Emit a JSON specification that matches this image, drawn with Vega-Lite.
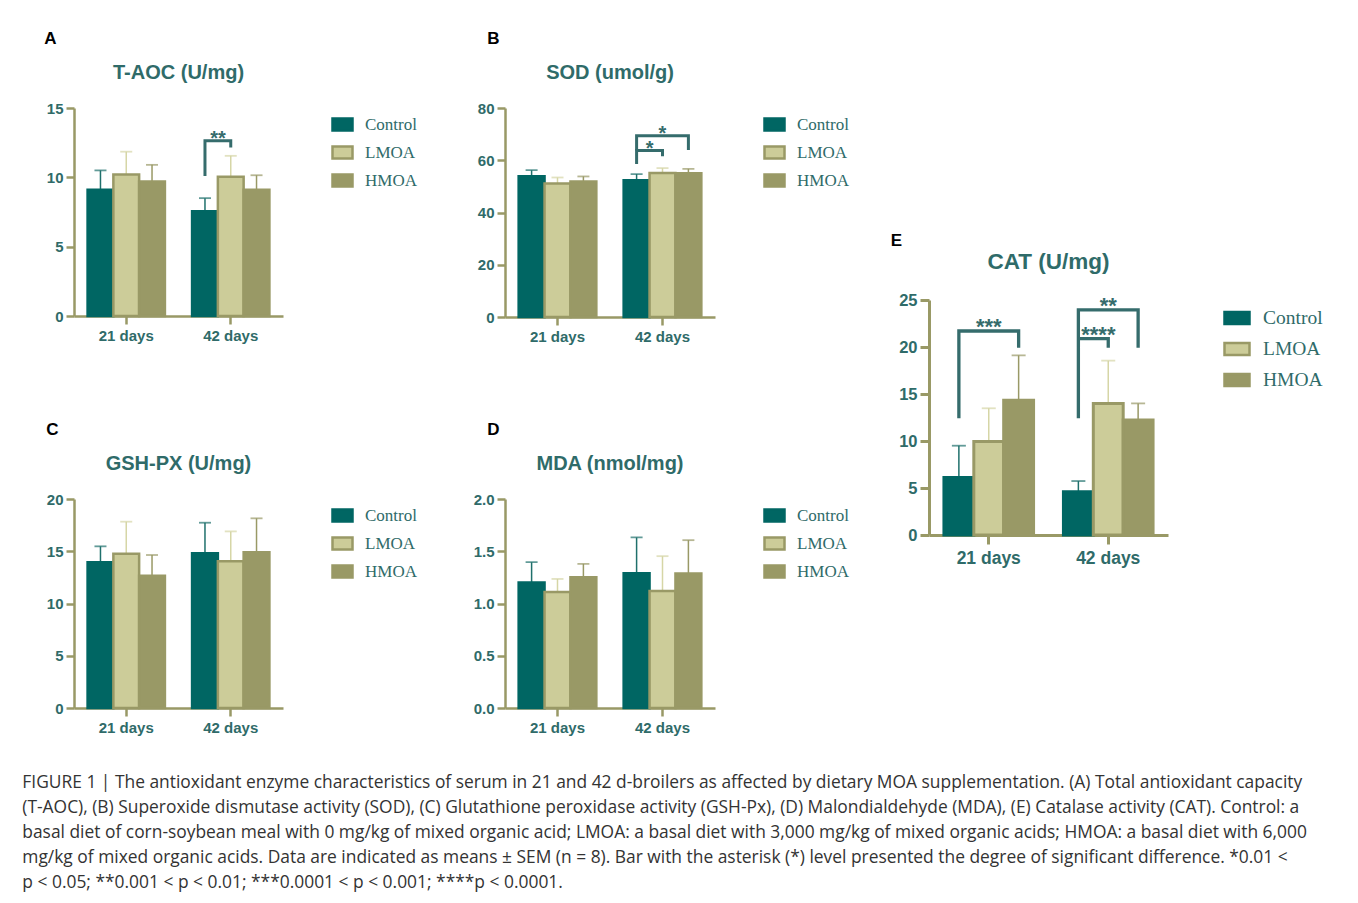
{
"$schema":"https://vega.github.io/schema/vega-lite/v6.json",
"padding":{"left":22,"top":30,"right":5,"bottom":5},
"datasets":{
"bars":[
{"panel":"A","day":"21 days","group":"Control","mean":9.1,"upper":10.5},
{"panel":"A","day":"21 days","group":"LMOA","mean":10.2,"upper":11.85},
{"panel":"A","day":"21 days","group":"HMOA","mean":9.7,"upper":10.9},
{"panel":"A","day":"42 days","group":"Control","mean":7.55,"upper":8.5},
{"panel":"A","day":"42 days","group":"LMOA","mean":10.05,"upper":11.55},
{"panel":"A","day":"42 days","group":"HMOA","mean":9.1,"upper":10.15},
{"panel":"B","day":"21 days","group":"Control","mean":53.9,"upper":56.2},
{"panel":"B","day":"21 days","group":"LMOA","mean":51.1,"upper":53.4},
{"panel":"B","day":"21 days","group":"HMOA","mean":51.9,"upper":53.8},
{"panel":"B","day":"42 days","group":"Control","mean":52.3,"upper":54.7},
{"panel":"B","day":"42 days","group":"LMOA","mean":55.1,"upper":57.0},
{"panel":"B","day":"42 days","group":"HMOA","mean":55.0,"upper":56.7},
{"panel":"C","day":"21 days","group":"Control","mean":13.94,"upper":15.47},
{"panel":"C","day":"21 days","group":"LMOA","mean":14.75,"upper":17.83},
{"panel":"C","day":"21 days","group":"HMOA","mean":12.66,"upper":14.64},
{"panel":"C","day":"42 days","group":"Control","mean":14.8,"upper":17.73},
{"panel":"C","day":"42 days","group":"LMOA","mean":14.05,"upper":16.9},
{"panel":"C","day":"42 days","group":"HMOA","mean":14.9,"upper":18.15},
{"panel":"D","day":"21 days","group":"Control","mean":1.2,"upper":1.395},
{"panel":"D","day":"21 days","group":"LMOA","mean":1.11,"upper":1.235},
{"panel":"D","day":"21 days","group":"HMOA","mean":1.251,"upper":1.379},
{"panel":"D","day":"42 days","group":"Control","mean":1.29,"upper":1.632},
{"panel":"D","day":"42 days","group":"LMOA","mean":1.12,"upper":1.453},
{"panel":"D","day":"42 days","group":"HMOA","mean":1.286,"upper":1.606},
{"panel":"E","day":"21 days","group":"Control","mean":6.13,"upper":9.5},
{"panel":"E","day":"21 days","group":"LMOA","mean":9.95,"upper":13.48},
{"panel":"E","day":"21 days","group":"HMOA","mean":14.33,"upper":19.11},
{"panel":"E","day":"42 days","group":"Control","mean":4.61,"upper":5.74},
{"panel":"E","day":"42 days","group":"LMOA","mean":14.0,"upper":18.55},
{"panel":"E","day":"42 days","group":"HMOA","mean":12.23,"upper":14.0}
],
"brackets":[
{"panel":"A","bid":"A1","seq":1,"day":"42 days","group":"Control","y":10.1},
{"panel":"A","bid":"A1","seq":2,"day":"42 days","group":"Control","y":12.64},
{"panel":"A","bid":"A1","seq":3,"day":"42 days","group":"LMOA","y":12.64},
{"panel":"A","bid":"A1","seq":4,"day":"42 days","group":"LMOA","y":12.16},
{"panel":"B","bid":"B1","seq":1,"day":"42 days","group":"Control","y":58.6},
{"panel":"B","bid":"B1","seq":2,"day":"42 days","group":"Control","y":63.7},
{"panel":"B","bid":"B1","seq":3,"day":"42 days","group":"LMOA","y":63.7},
{"panel":"B","bid":"B1","seq":4,"day":"42 days","group":"LMOA","y":61.5},
{"panel":"B","bid":"B2","seq":1,"day":"42 days","group":"Control","y":63.7},
{"panel":"B","bid":"B2","seq":2,"day":"42 days","group":"Control","y":69.4},
{"panel":"B","bid":"B2","seq":3,"day":"42 days","group":"HMOA","y":69.4},
{"panel":"B","bid":"B2","seq":4,"day":"42 days","group":"HMOA","y":63.9},
{"panel":"E","bid":"E1","seq":1,"day":"21 days","group":"Control","y":12.41},
{"panel":"E","bid":"E1","seq":2,"day":"21 days","group":"Control","y":21.7},
{"panel":"E","bid":"E1","seq":3,"day":"21 days","group":"HMOA","y":21.7},
{"panel":"E","bid":"E1","seq":4,"day":"21 days","group":"HMOA","y":19.93},
{"panel":"E","bid":"E2","seq":1,"day":"42 days","group":"Control","y":12.41},
{"panel":"E","bid":"E2","seq":2,"day":"42 days","group":"Control","y":23.94},
{"panel":"E","bid":"E2","seq":3,"day":"42 days","group":"HMOA","y":23.94},
{"panel":"E","bid":"E2","seq":4,"day":"42 days","group":"HMOA","y":19.93},
{"panel":"E","bid":"E3","seq":1,"day":"42 days","group":"Control","y":20.9},
{"panel":"E","bid":"E3","seq":2,"day":"42 days","group":"LMOA","y":20.9},
{"panel":"E","bid":"E3","seq":3,"day":"42 days","group":"LMOA","y":19.93}
],
"stars":[
{"panel":"A","pos":"between","day":"42 days","group":"Control","y":12.64,"label":"**"},
{"panel":"B","pos":"between","day":"42 days","group":"Control","y":63.7,"label":"*"},
{"panel":"B","pos":"center","day":"42 days","group":"LMOA","y":69.4,"label":"*"},
{"panel":"E","pos":"center","day":"21 days","group":"LMOA","y":21.7,"label":"***"},
{"panel":"E","pos":"center","day":"42 days","group":"LMOA","y":23.94,"label":"**"},
{"panel":"E","pos":"between","day":"42 days","group":"Control","y":20.9,"label":"****"}
]
},
"config":{
"font":"Liberation Sans",
"view":{"stroke":null},
"axis":{"domainColor":"#999966","domainWidth":2.5,"tickColor":"#999966","tickWidth":2.5,"tickSize":8,"labelFont":"Liberation Sans","labelFontWeight":"bold","labelFontSize":15,"labelColor":"#2f6b69","grid":false,"zindex":1},
"axisX":{"labelAngle":0,"labelPadding":4},
"axisY":{"labelPadding":3},
"legend":{"offset":43,"padding":5,"labelOffset":11,"rowPadding":5,"symbolStrokeWidth":2.5,"labelFont":"Liberation Serif","labelFontSize":17,"labelColor":"#2f6b69"}
},
"title":{"text":[
"FIGURE 1 | The antioxidant enzyme characteristics of serum in 21 and 42 d-broilers as affected by dietary MOA supplementation. (A) Total antioxidant capacity",
"(T-AOC), (B) Superoxide dismutase activity (SOD), (C) Glutathione peroxidase activity (GSH-Px), (D) Malondialdehyde (MDA), (E) Catalase activity (CAT). Control: a",
"basal diet of corn-soybean meal with 0 mg/kg of mixed organic acid; LMOA: a basal diet with 3,000 mg/kg of mixed organic acids; HMOA: a basal diet with 6,000",
"mg/kg of mixed organic acids. Data are indicated as means ± SEM (n = 8). Bar with the asterisk (*) level presented the degree of significant difference. *0.01 <",
"p < 0.05; **0.001 < p < 0.01; ***0.0001 < p < 0.001; ****p < 0.0001."
],"orient":"bottom","anchor":"start","frame":"bounds","font":"Open Sans","fontSize":17.4,"fontWeight":"normal","color":"#333333","lineHeight":25,"offset":39,"dx":-22},
"resolve":{"scale":{"x":"independent","y":"independent","xOffset":"independent","fill":"independent","stroke":"independent","color":"independent"},"legend":{"fill":"independent","stroke":"independent","color":"independent"}},
"spacing":36,
"hconcat":[
{
"spacing":77,
"resolve":{"scale":{"x":"independent","y":"independent","xOffset":"independent","fill":"independent","stroke":"independent","color":"independent"},"legend":{"fill":"independent","stroke":"independent","color":"independent"}},
"vconcat":[
{
"spacing":55,
"resolve":{"scale":{"x":"independent","y":"independent","xOffset":"independent","fill":"independent","stroke":"independent","color":"independent"},"legend":{"fill":"independent","stroke":"independent","color":"independent"}},
"hconcat":[
{
"title":{"text":"A","anchor":"start","frame":"bounds","font":"Liberation Sans","fontSize":17,"fontWeight":"bold","color":"#000000","offset":15,"dx":-2},
"resolve":{"scale":{"x":"independent","y":"independent","xOffset":"independent","fill":"independent","stroke":"independent","color":"independent"},"legend":{"fill":"independent","stroke":"independent","color":"independent"}},
"vconcat":[{
"width":209,"height":208,
"title":{"text":"T-AOC (U/mg)","anchor":"middle","frame":"group","font":"Liberation Sans","fontSize":20,"fontWeight":"bold","color":"#2f6b69","offset":18},
"layer":[
{"data":{"name":"bars"},"transform":[{"filter":"datum.panel==='A'"}],"mark":{"type":"rule","strokeWidth":1.5},
"encoding":{
"x":{"field":"day","type":"nominal","scale":{"domain":["21 days","42 days"],"paddingInner":0.26,"paddingOuter":0.13},"axis":{"title":null,"labelAngle":0}},
"xOffset":{"field":"group","type":"nominal","scale":{"domain":["Control","LMOA","HMOA"]}},
"y":{"field":"mean","type":"quantitative","scale":{"domain":[0,15],"nice":false},"axis":{"title":null,"values":[0,5,10,15]}},
"y2":{"field":"upper"},
"color":{"field":"group","type":"nominal","scale":{"domain":["HMOA","LMOA","Control"],"range":["#999966","#d6d6a6","#1f706c"]},"legend":null}}},
{"data":{"name":"bars"},"transform":[{"filter":"datum.panel==='A'"}],"mark":{"type":"tick","thickness":1.8,"size":12},
"encoding":{"x":{"field":"day","type":"nominal"},"xOffset":{"field":"group","type":"nominal"},"y":{"field":"upper","type":"quantitative"},"color":{"field":"group","type":"nominal","legend":null}}},
{"data":{"name":"bars"},"transform":[{"filter":"datum.panel==='A'"}],"mark":{"type":"bar","strokeWidth":2.5},
"encoding":{"x":{"field":"day","type":"nominal"},"xOffset":{"field":"group","type":"nominal"},"y":{"field":"mean","type":"quantitative"},
"fill":{"field":"group","type":"nominal","scale":{"domain":["Control","LMOA","HMOA"],"range":["#006663","#cccc99","#999966"]},"legend":{"title":null,"symbolType":"M-1,-0.6H1V0.6H-1Z","symbolSize":400}},
"stroke":{"field":"group","type":"nominal","scale":{"domain":["Control","LMOA","HMOA"],"range":["#006663","#999966","#999966"]},"legend":{"title":null,"symbolType":"M-1,-0.6H1V0.6H-1Z","symbolSize":400}}}},
{"data":{"name":"brackets"},"transform":[{"filter":"datum.panel==='A'"}],"mark":{"type":"line","color":"#356c6c","strokeWidth":3,"strokeJoin":"miter","strokeCap":"butt"},
"encoding":{"x":{"field":"day","type":"nominal"},"xOffset":{"field":"group","type":"nominal"},"y":{"field":"y","type":"quantitative"},"detail":{"field":"bid","type":"nominal"},"order":{"field":"seq","type":"quantitative"}}},
{"data":{"name":"stars"},"transform":[{"filter":"datum.panel==='A' && datum.pos==='between'"}],"mark":{"type":"text","font":"Liberation Sans","fontWeight":"bold","fontSize":20,"color":"#356c6c","dx":13,"dy":4,"baseline":"alphabetic","align":"center"},
"encoding":{"x":{"field":"day","type":"nominal"},"xOffset":{"field":"group","type":"nominal"},"y":{"field":"y","type":"quantitative"},"text":{"field":"label","type":"nominal"}}}
]}]
},
{
"title":{"text":"B","anchor":"start","frame":"bounds","font":"Liberation Sans","fontSize":17,"fontWeight":"bold","color":"#000000","offset":15,"dx":10},
"resolve":{"scale":{"x":"independent","y":"independent","xOffset":"independent","fill":"independent","stroke":"independent","color":"independent"},"legend":{"fill":"independent","stroke":"independent","color":"independent"}},
"vconcat":[{
"width":210,"height":209,
"title":{"text":"SOD (umol/g)","anchor":"middle","frame":"group","font":"Liberation Sans","fontSize":20,"fontWeight":"bold","color":"#2f6b69","offset":18},
"layer":[
{"data":{"name":"bars"},"transform":[{"filter":"datum.panel==='B'"}],"mark":{"type":"rule","strokeWidth":1.5},
"encoding":{
"x":{"field":"day","type":"nominal","scale":{"domain":["21 days","42 days"],"paddingInner":0.26,"paddingOuter":0.13},"axis":{"title":null,"labelAngle":0}},
"xOffset":{"field":"group","type":"nominal","scale":{"domain":["Control","LMOA","HMOA"]}},
"y":{"field":"mean","type":"quantitative","scale":{"domain":[0,80],"nice":false},"axis":{"title":null,"values":[0,20,40,60,80]}},
"y2":{"field":"upper"},
"color":{"field":"group","type":"nominal","scale":{"domain":["HMOA","LMOA","Control"],"range":["#999966","#d6d6a6","#1f706c"]},"legend":null}}},
{"data":{"name":"bars"},"transform":[{"filter":"datum.panel==='B'"}],"mark":{"type":"tick","thickness":1.8,"size":12},
"encoding":{"x":{"field":"day","type":"nominal"},"xOffset":{"field":"group","type":"nominal"},"y":{"field":"upper","type":"quantitative"},"color":{"field":"group","type":"nominal","legend":null}}},
{"data":{"name":"bars"},"transform":[{"filter":"datum.panel==='B'"}],"mark":{"type":"bar","strokeWidth":2.5},
"encoding":{"x":{"field":"day","type":"nominal"},"xOffset":{"field":"group","type":"nominal"},"y":{"field":"mean","type":"quantitative"},
"fill":{"field":"group","type":"nominal","scale":{"domain":["Control","LMOA","HMOA"],"range":["#006663","#cccc99","#999966"]},"legend":{"title":null,"symbolType":"M-1,-0.6H1V0.6H-1Z","symbolSize":400}},
"stroke":{"field":"group","type":"nominal","scale":{"domain":["Control","LMOA","HMOA"],"range":["#006663","#999966","#999966"]},"legend":{"title":null,"symbolType":"M-1,-0.6H1V0.6H-1Z","symbolSize":400}}}},
{"data":{"name":"brackets"},"transform":[{"filter":"datum.panel==='B'"}],"mark":{"type":"line","color":"#356c6c","strokeWidth":3,"strokeJoin":"miter","strokeCap":"butt"},
"encoding":{"x":{"field":"day","type":"nominal"},"xOffset":{"field":"group","type":"nominal"},"y":{"field":"y","type":"quantitative"},"detail":{"field":"bid","type":"nominal"},"order":{"field":"seq","type":"quantitative"}}},
{"data":{"name":"stars"},"transform":[{"filter":"datum.panel==='B' && datum.pos==='between'"}],"mark":{"type":"text","font":"Liberation Sans","fontWeight":"bold","fontSize":20,"color":"#356c6c","dx":13,"dy":4,"baseline":"alphabetic","align":"center"},
"encoding":{"x":{"field":"day","type":"nominal"},"xOffset":{"field":"group","type":"nominal"},"y":{"field":"y","type":"quantitative"},"text":{"field":"label","type":"nominal"}}},
{"data":{"name":"stars"},"transform":[{"filter":"datum.panel==='B' && datum.pos==='center'"}],"mark":{"type":"text","font":"Liberation Sans","fontWeight":"bold","fontSize":20,"color":"#356c6c","dy":4,"baseline":"alphabetic","align":"center"},
"encoding":{"x":{"field":"day","type":"nominal"},"xOffset":{"field":"group","type":"nominal"},"y":{"field":"y","type":"quantitative"},"text":{"field":"label","type":"nominal"}}}
]}]
}
]
},
{
"spacing":51,
"resolve":{"scale":{"x":"independent","y":"independent","xOffset":"independent","fill":"independent","stroke":"independent","color":"independent"},"legend":{"fill":"independent","stroke":"independent","color":"independent"}},
"hconcat":[
{
"title":{"text":"C","anchor":"start","frame":"bounds","font":"Liberation Sans","fontSize":17,"fontWeight":"bold","color":"#000000","offset":15,"dx":0},
"resolve":{"scale":{"x":"independent","y":"independent","xOffset":"independent","fill":"independent","stroke":"independent","color":"independent"},"legend":{"fill":"independent","stroke":"independent","color":"independent"}},
"vconcat":[{
"width":209,"height":209,
"title":{"text":"GSH-PX (U/mg)","anchor":"middle","frame":"group","font":"Liberation Sans","fontSize":20,"fontWeight":"bold","color":"#2f6b69","offset":18},
"layer":[
{"data":{"name":"bars"},"transform":[{"filter":"datum.panel==='C'"}],"mark":{"type":"rule","strokeWidth":1.5},
"encoding":{
"x":{"field":"day","type":"nominal","scale":{"domain":["21 days","42 days"],"paddingInner":0.26,"paddingOuter":0.13},"axis":{"title":null,"labelAngle":0}},
"xOffset":{"field":"group","type":"nominal","scale":{"domain":["Control","LMOA","HMOA"]}},
"y":{"field":"mean","type":"quantitative","scale":{"domain":[0,20],"nice":false},"axis":{"title":null,"values":[0,5,10,15,20]}},
"y2":{"field":"upper"},
"color":{"field":"group","type":"nominal","scale":{"domain":["HMOA","LMOA","Control"],"range":["#999966","#d6d6a6","#1f706c"]},"legend":null}}},
{"data":{"name":"bars"},"transform":[{"filter":"datum.panel==='C'"}],"mark":{"type":"tick","thickness":1.8,"size":12},
"encoding":{"x":{"field":"day","type":"nominal"},"xOffset":{"field":"group","type":"nominal"},"y":{"field":"upper","type":"quantitative"},"color":{"field":"group","type":"nominal","legend":null}}},
{"data":{"name":"bars"},"transform":[{"filter":"datum.panel==='C'"}],"mark":{"type":"bar","strokeWidth":2.5},
"encoding":{"x":{"field":"day","type":"nominal"},"xOffset":{"field":"group","type":"nominal"},"y":{"field":"mean","type":"quantitative"},
"fill":{"field":"group","type":"nominal","scale":{"domain":["Control","LMOA","HMOA"],"range":["#006663","#cccc99","#999966"]},"legend":{"title":null,"symbolType":"M-1,-0.6H1V0.6H-1Z","symbolSize":400}},
"stroke":{"field":"group","type":"nominal","scale":{"domain":["Control","LMOA","HMOA"],"range":["#006663","#999966","#999966"]},"legend":{"title":null,"symbolType":"M-1,-0.6H1V0.6H-1Z","symbolSize":400}}}}
]}]
},
{
"title":{"text":"D","anchor":"start","frame":"bounds","font":"Liberation Sans","fontSize":17,"fontWeight":"bold","color":"#000000","offset":15,"dx":14},
"resolve":{"scale":{"x":"independent","y":"independent","xOffset":"independent","fill":"independent","stroke":"independent","color":"independent"},"legend":{"fill":"independent","stroke":"independent","color":"independent"}},
"vconcat":[{
"width":210,"height":209,
"title":{"text":"MDA (nmol/mg)","anchor":"middle","frame":"group","font":"Liberation Sans","fontSize":20,"fontWeight":"bold","color":"#2f6b69","offset":18},
"layer":[
{"data":{"name":"bars"},"transform":[{"filter":"datum.panel==='D'"}],"mark":{"type":"rule","strokeWidth":1.5},
"encoding":{
"x":{"field":"day","type":"nominal","scale":{"domain":["21 days","42 days"],"paddingInner":0.26,"paddingOuter":0.13},"axis":{"title":null,"labelAngle":0}},
"xOffset":{"field":"group","type":"nominal","scale":{"domain":["Control","LMOA","HMOA"]}},
"y":{"field":"mean","type":"quantitative","scale":{"domain":[0,2],"nice":false},"axis":{"title":null,"values":[0,0.5,1,1.5,2],"format":".1f"}},
"y2":{"field":"upper"},
"color":{"field":"group","type":"nominal","scale":{"domain":["HMOA","LMOA","Control"],"range":["#999966","#d6d6a6","#1f706c"]},"legend":null}}},
{"data":{"name":"bars"},"transform":[{"filter":"datum.panel==='D'"}],"mark":{"type":"tick","thickness":1.8,"size":12},
"encoding":{"x":{"field":"day","type":"nominal"},"xOffset":{"field":"group","type":"nominal"},"y":{"field":"upper","type":"quantitative"},"color":{"field":"group","type":"nominal","legend":null}}},
{"data":{"name":"bars"},"transform":[{"filter":"datum.panel==='D'"}],"mark":{"type":"bar","strokeWidth":2.5},
"encoding":{"x":{"field":"day","type":"nominal"},"xOffset":{"field":"group","type":"nominal"},"y":{"field":"mean","type":"quantitative"},
"fill":{"field":"group","type":"nominal","scale":{"domain":["Control","LMOA","HMOA"],"range":["#006663","#cccc99","#999966"]},"legend":{"title":null,"symbolType":"M-1,-0.6H1V0.6H-1Z","symbolSize":400}},
"stroke":{"field":"group","type":"nominal","scale":{"domain":["Control","LMOA","HMOA"],"range":["#006663","#999966","#999966"]},"legend":{"title":null,"symbolType":"M-1,-0.6H1V0.6H-1Z","symbolSize":400}}}}
]}]
}
]
}
]
},
{
"spacing":0,
"resolve":{"scale":{"x":"independent","y":"independent","xOffset":"independent","fill":"independent","stroke":"independent","color":"independent"},"legend":{"fill":"independent","stroke":"independent","color":"independent"}},
"vconcat":[
{"width":10,"height":123,"data":{"values":[{"k":1}]},"mark":{"type":"text"},"encoding":{"text":{"value":""}}},
{
"title":{"text":"E","anchor":"start","frame":"bounds","font":"Liberation Sans","fontSize":17,"fontWeight":"bold","color":"#000000","offset":1,"dx":-8},
"resolve":{"scale":{"x":"independent","y":"independent","xOffset":"independent","fill":"independent","stroke":"independent","color":"independent"},"legend":{"fill":"independent","stroke":"independent","color":"independent"}},
"vconcat":[{
"width":239,"height":235,
"title":{"text":"CAT (U/mg)","anchor":"middle","frame":"group","font":"Liberation Sans","fontSize":22.5,"fontWeight":"bold","color":"#2f6b69","offset":19},
"layer":[
{"data":{"name":"bars"},"transform":[{"filter":"datum.panel==='E'"}],"mark":{"type":"rule","strokeWidth":1.5},
"encoding":{
"x":{"field":"day","type":"nominal","scale":{"domain":["21 days","42 days"],"paddingInner":0.25,"paddingOuter":0.125},"axis":{"title":null,"labelAngle":0,"labelFontSize":17.5,"tickSize":9,"domainWidth":3,"tickWidth":3,"labelPadding":5}},
"xOffset":{"field":"group","type":"nominal","scale":{"domain":["Control","LMOA","HMOA"]}},
"y":{"field":"mean","type":"quantitative","scale":{"domain":[0,25],"nice":false},"axis":{"title":null,"values":[0,5,10,15,20,25],"labelFontSize":16.5,"tickSize":9,"domainWidth":3,"tickWidth":3}},
"y2":{"field":"upper"},
"color":{"field":"group","type":"nominal","scale":{"domain":["HMOA","LMOA","Control"],"range":["#999966","#d6d6a6","#1f706c"]},"legend":null}}},
{"data":{"name":"bars"},"transform":[{"filter":"datum.panel==='E'"}],"mark":{"type":"tick","thickness":1.8,"size":14},
"encoding":{"x":{"field":"day","type":"nominal"},"xOffset":{"field":"group","type":"nominal"},"y":{"field":"upper","type":"quantitative"},"color":{"field":"group","type":"nominal","legend":null}}},
{"data":{"name":"bars"},"transform":[{"filter":"datum.panel==='E'"}],"mark":{"type":"bar","strokeWidth":3},
"encoding":{"x":{"field":"day","type":"nominal"},"xOffset":{"field":"group","type":"nominal"},"y":{"field":"mean","type":"quantitative"},
"fill":{"field":"group","type":"nominal","scale":{"domain":["Control","LMOA","HMOA"],"range":["#006663","#cccc99","#999966"]},"legend":{"title":null,"symbolType":"M-1,-0.48H1V0.48H-1Z","symbolSize":625,"labelFontSize":19.5,"rowPadding":6,"labelOffset":12,"offset":51,"padding":4}},
"stroke":{"field":"group","type":"nominal","scale":{"domain":["Control","LMOA","HMOA"],"range":["#006663","#999966","#999966"]},"legend":{"title":null,"symbolType":"M-1,-0.48H1V0.48H-1Z","symbolSize":625,"labelFontSize":19.5,"rowPadding":6,"labelOffset":12,"offset":51,"padding":4}}}},
{"data":{"name":"brackets"},"transform":[{"filter":"datum.panel==='E'"}],"mark":{"type":"line","color":"#356c6c","strokeWidth":3.3,"strokeJoin":"miter","strokeCap":"butt"},
"encoding":{"x":{"field":"day","type":"nominal"},"xOffset":{"field":"group","type":"nominal"},"y":{"field":"y","type":"quantitative"},"detail":{"field":"bid","type":"nominal"},"order":{"field":"seq","type":"quantitative"}}},
{"data":{"name":"stars"},"transform":[{"filter":"datum.panel==='E' && datum.pos==='between'"}],"mark":{"type":"text","font":"Liberation Sans","fontWeight":"bold","fontSize":22,"color":"#356c6c","dx":20,"dy":3,"baseline":"alphabetic","align":"center"},
"encoding":{"x":{"field":"day","type":"nominal"},"xOffset":{"field":"group","type":"nominal"},"y":{"field":"y","type":"quantitative"},"text":{"field":"label","type":"nominal"}}},
{"data":{"name":"stars"},"transform":[{"filter":"datum.panel==='E' && datum.pos==='center'"}],"mark":{"type":"text","font":"Liberation Sans","fontWeight":"bold","fontSize":22,"color":"#356c6c","dy":3,"baseline":"alphabetic","align":"center"},
"encoding":{"x":{"field":"day","type":"nominal"},"xOffset":{"field":"group","type":"nominal"},"y":{"field":"y","type":"quantitative"},"text":{"field":"label","type":"nominal"}}}
]}]
}
]
}
]
}
